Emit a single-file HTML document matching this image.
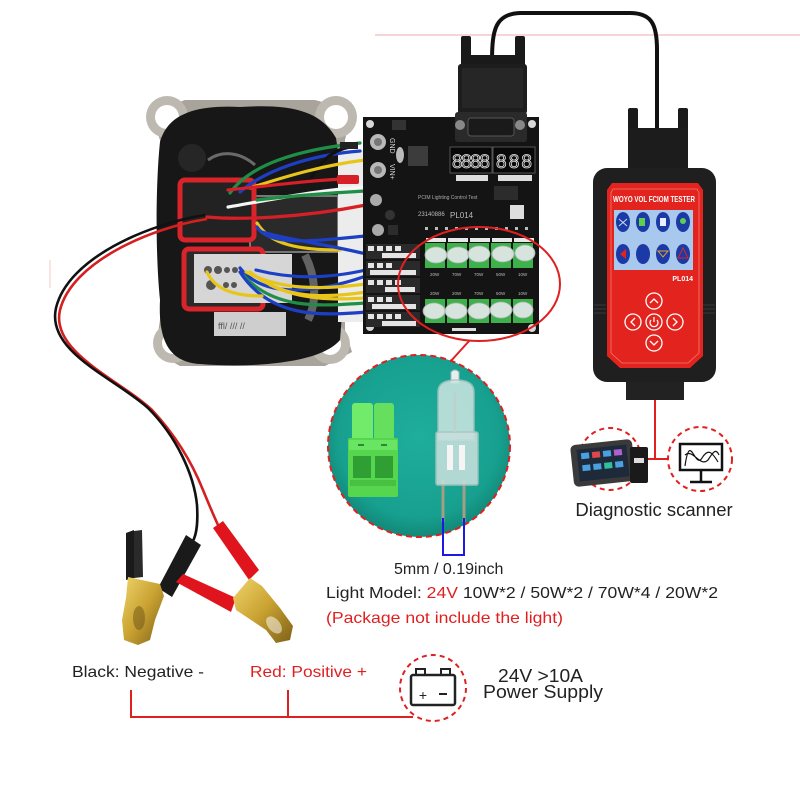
<!DOCTYPE html>
<html><head><meta charset="utf-8">
<style>
html,body{margin:0;padding:0;background:#fff;}
svg{display:block;}
text{font-family:"Liberation Sans",Arial,sans-serif;}
</style></head><body>
<svg width="800" height="800" viewBox="0 0 800 800" xmlns="http://www.w3.org/2000/svg">
<defs>
<radialGradient id="teal" cx="50%" cy="45%" r="55%">
<stop offset="0" stop-color="#1fae9c"/><stop offset="0.8" stop-color="#17a08f"/><stop offset="1" stop-color="#128878"/>
</radialGradient>
<linearGradient id="gold" x1="0" y1="0" x2="1" y2="1">
<stop offset="0" stop-color="#f0d46a"/><stop offset="0.5" stop-color="#c9a232"/><stop offset="1" stop-color="#7e6018"/>
</linearGradient>
<clipPath id="cc"><circle cx="419" cy="446" r="90"/></clipPath>
</defs>
<rect width="800" height="800" fill="#fff"/>
<line x1="375" y1="35" x2="800" y2="35" stroke="#f3bcbc" stroke-width="1.2"/>
<line x1="50" y1="260" x2="50" y2="288" stroke="#f6c8c8" stroke-width="1"/>

<!-- DB9 cable -->
<path d="M492,62 C492,30 495,14 520,13 L630,13 C652,13 657,25 657,50 L657,130" stroke="#111" stroke-width="4" fill="none"/>

<!-- ECU flange -->
<path d="M150,112 L185,100 L315,100 L352,110 L345,140 L345,330 L352,352 L325,366 L180,366 L155,352 L160,320 L160,140 Z" fill="#a8a39b"/>
<circle cx="167" cy="117" r="21" fill="#bdb8b0"/><circle cx="167" cy="117" r="12" fill="#fff"/>
<circle cx="336" cy="117" r="21" fill="#bdb8b0"/><circle cx="336" cy="117" r="12" fill="#fff"/>
<circle cx="173" cy="343" r="20" fill="#bdb8b0"/><circle cx="173" cy="343" r="11" fill="#fff"/>
<circle cx="330" cy="344" r="20" fill="#bdb8b0"/><circle cx="330" cy="344" r="11" fill="#fff"/>
<!-- potting -->
<path d="M160,142 C168,112 200,105 240,107 C290,104 320,110 336,138 C346,200 344,300 340,340 C320,364 250,368 200,364 C170,362 158,342 160,300 C155,250 156,180 160,142 Z" fill="#171717"/>
<ellipse cx="192" cy="158" rx="14" ry="14" fill="#262626"/>
<path d="M208,160 C222,150 240,152 255,165" stroke="#6a6a6a" stroke-width="3" fill="none"/>
<!-- upper connector interior -->
<rect x="250" y="196" width="88" height="56" fill="#2a2a2a" stroke="#777" stroke-width="2"/>
<path d="M305,255 C315,275 318,300 308,320" stroke="#777" stroke-width="8" fill="none" opacity="0.8"/>
<rect x="214" y="312" width="72" height="24" fill="#e2e2e2" opacity="0.9"/>
<text x="218" y="329" font-size="9" fill="#555">ffl/ /// //</text>
<!-- red connectors -->
<rect x="180" y="180" width="74" height="60" rx="5" fill="#222" stroke="#d8242a" stroke-width="5"/>
<rect x="184" y="249" width="79" height="60" rx="5" fill="#2a2a2a" stroke="#d8242a" stroke-width="5"/>
<rect x="194" y="254" width="98" height="49" fill="#d6d6d6"/>
<g fill="#555"><circle cx="208" cy="270" r="4"/><circle cx="218" cy="270" r="4"/><circle cx="227" cy="270" r="3"/><circle cx="235" cy="270" r="3"/><circle cx="211" cy="285" r="5"/><circle cx="226" cy="285" r="3"/><circle cx="234" cy="285" r="3"/></g>
<!-- white strip -->
<rect x="338" y="150" width="28" height="172" fill="#ececec"/>

<!-- wires -->
<g fill="none" stroke-width="3.2" stroke-linecap="round">
<path d="M230,193 C250,165 295,150 360,143" stroke="#1f8f46"/>
<path d="M240,192 C265,170 310,155 360,151" stroke="#1c3fc4"/>
<path d="M310,180 C320,162 332,150 350,147" stroke="#111"/>
<path d="M250,188 C290,175 325,165 365,160" stroke="#e8c51a"/>
<path d="M228,190 C275,185 315,180 345,179" stroke="#d61f26"/>
<path d="M228,207 C280,198 320,190 365,187" stroke="#f6f6f6"/>
<path d="M257,200 C290,196 330,193 365,191" stroke="#1f8f46"/>
<path d="M207,217 C240,220 300,218 366,205" stroke="#d61f26"/>
<path d="M257,223 C270,245 300,250 340,250" stroke="#e8c51a"/>
<path d="M257,227 C270,248 320,240 366,236" stroke="#1c3fc4"/>
<path d="M262,232 C290,240 330,245 366,254" stroke="#1c3fc4"/>
<path d="M240,268 C265,300 320,292 366,276" stroke="#1c3fc4"/>
<path d="M246,272 C280,290 320,290 366,284" stroke="#e8c51a"/>
<path d="M250,272 C285,300 325,298 366,292" stroke="#e8c51a"/>
<path d="M244,276 C275,310 320,306 366,303" stroke="#1f8f46"/>
<path d="M240,272 C270,318 320,316 366,312" stroke="#1c3fc4"/>
<path d="M256,270 C295,280 330,278 366,270" stroke="#1c3fc4"/>
<path d="M207,272 C215,290 235,296 262,296" stroke="#e8c51a"/>
<path d="M270,285 C300,300 335,300 366,298" stroke="#e8c51a"/>
</g>
<rect x="337" y="175" width="22" height="9" rx="2" fill="#d61f26"/>
<rect x="340" y="142" width="18" height="7" fill="#222"/>

<!-- DB9 plug -->
<rect x="461" y="36" width="10" height="32" rx="2" fill="#1a1a1a"/>
<rect x="515" y="36" width="10" height="32" rx="2" fill="#1a1a1a"/>
<rect x="470" y="55" width="46" height="12" fill="#1a1a1a"/>
<rect x="458" y="64" width="69" height="50" rx="3" fill="#1d1d1d"/>
<rect x="462" y="68" width="61" height="40" fill="#262626"/>

<!-- PCB -->
<rect x="363" y="117" width="176" height="217" fill="#141414"/>
<rect x="455" y="112" width="72" height="30" rx="3" fill="#2a2a2a"/>
<rect x="468" y="118" width="46" height="18" rx="3" fill="#1a1a1a" stroke="#555"/>
<circle cx="460" cy="125" r="5" fill="#888"/><circle cx="520" cy="125" r="5" fill="#888"/>
<g fill="#d8d8d8"><circle cx="370" cy="124" r="4"/><circle cx="532" cy="124" r="4"/><circle cx="370" cy="327" r="4"/><circle cx="532" cy="328" r="4"/></g>
<circle cx="378" cy="142" r="8" fill="#b9b9b9"/><circle cx="378" cy="142" r="4" fill="#777"/>
<circle cx="378" cy="170" r="8" fill="#b9b9b9"/><circle cx="378" cy="170" r="4" fill="#777"/>
<text x="390" y="138" font-size="7" fill="#ddd" transform="rotate(90 390 138)">GND</text>
<text x="390" y="164" font-size="7" fill="#ddd" transform="rotate(90 390 164)">VIN+</text>
<rect x="392" y="120" width="14" height="10" fill="#333"/>
<circle cx="376" cy="200" r="6" fill="#aaa"/><circle cx="378" cy="230" r="6" fill="#aaa"/>
<circle cx="390" cy="215" r="5" fill="#333"/><rect x="388" y="225" width="10" height="10" fill="#2c2c2c"/>
<rect x="408" y="146" width="20" height="20" fill="#3c3c3c"/>
<ellipse cx="400" cy="155" rx="4" ry="8" fill="#bbb"/>
<rect x="450" y="147" width="42" height="26" fill="#080808" stroke="#555"/>
<rect x="493" y="147" width="42" height="26" fill="#080808" stroke="#555"/>
<text x="452" y="168" font-size="19" font-family="Liberation Mono" fill="#111" stroke="#e6e6e6" stroke-width="0.8" textLength="38">8888</text>
<text x="496" y="168" font-size="19" font-family="Liberation Mono" fill="#111" stroke="#e6e6e6" stroke-width="0.8" textLength="36">888</text>
<rect x="456" y="175" width="32" height="6" fill="#ddd"/><rect x="498" y="175" width="34" height="6" fill="#ddd"/>
<rect x="494" y="186" width="24" height="14" fill="#2c2c2c"/>
<text x="418" y="199" font-size="5" fill="#aaa">PCIM Lighting Control Test</text>
<text x="418" y="216" font-size="6" fill="#bbb">23140886</text>
<text x="450" y="218" font-size="8" fill="#bbb">PL014</text>
<rect x="510" y="205" width="14" height="14" fill="#ddd"/>
<g fill="#bbb"><rect x="425" y="227" width="3" height="3"/><rect x="435" y="227" width="3" height="3"/><rect x="445" y="227" width="3" height="3"/><rect x="455" y="227" width="3" height="3"/><rect x="465" y="227" width="3" height="3"/><rect x="475" y="227" width="3" height="3"/><rect x="485" y="227" width="3" height="3"/><rect x="495" y="227" width="3" height="3"/><rect x="505" y="227" width="3" height="3"/><rect x="515" y="227" width="3" height="3"/><rect x="525" y="227" width="3" height="3"/></g>
<!-- left label rows -->
<g fill="#e4e4e4">
<rect x="366" y="244" width="54" height="15" fill="#2a2a2a"/><rect x="366" y="261" width="54" height="15" fill="#2a2a2a"/><rect x="366" y="278" width="54" height="15" fill="#2a2a2a"/><rect x="366" y="295" width="54" height="15" fill="#2a2a2a"/><rect x="366" y="312" width="54" height="15" fill="#2a2a2a"/>
<rect x="368" y="246" width="6" height="5"/><rect x="377" y="246" width="6" height="5"/><rect x="386" y="246" width="6" height="5"/><rect x="395" y="246" width="6" height="5"/><rect x="382" y="253" width="34" height="5"/>
<rect x="368" y="263" width="6" height="5"/><rect x="377" y="263" width="6" height="5"/><rect x="386" y="263" width="6" height="5"/><rect x="370" y="270" width="46" height="5"/>
<rect x="368" y="280" width="6" height="5"/><rect x="377" y="280" width="6" height="5"/><rect x="386" y="280" width="6" height="5"/><rect x="395" y="280" width="6" height="5"/><rect x="385" y="287" width="30" height="5"/>
<rect x="368" y="297" width="6" height="5"/><rect x="377" y="297" width="6" height="5"/><rect x="386" y="297" width="6" height="5"/><rect x="372" y="304" width="44" height="5"/>
<rect x="368" y="314" width="6" height="5"/><rect x="377" y="314" width="6" height="5"/><rect x="386" y="314" width="6" height="5"/><rect x="395" y="314" width="6" height="5"/><rect x="382" y="321" width="34" height="5"/>
</g>
<!-- terminal blocks -->
<g fill="#e8e8e8"><rect x="426" y="238" width="20" height="4"/><rect x="448" y="238" width="20" height="4"/><rect x="470" y="238" width="20" height="4"/><rect x="492" y="238" width="20" height="4"/><rect x="514" y="238" width="20" height="4"/></g>
<g fill="#3db24a">
<rect x="425" y="243" width="20" height="25"/><rect x="447" y="243" width="20" height="25"/><rect x="469" y="243" width="20" height="25"/><rect x="491" y="243" width="20" height="25"/><rect x="513" y="243" width="20" height="25"/>
<rect x="425" y="299" width="20" height="24"/><rect x="447" y="299" width="20" height="24"/><rect x="469" y="299" width="20" height="24"/><rect x="491" y="299" width="20" height="24"/><rect x="513" y="299" width="20" height="24"/>
</g>
<g fill="#dfe7e5" stroke="#aab5b2" stroke-width="0.8" opacity="0.95">
<ellipse cx="436" cy="255" rx="11" ry="8"/><ellipse cx="458" cy="255" rx="11" ry="8"/><ellipse cx="479" cy="254" rx="11" ry="8"/><ellipse cx="503" cy="254" rx="11" ry="8"/><ellipse cx="525" cy="253" rx="10" ry="8"/>
<ellipse cx="434" cy="311" rx="11" ry="8"/><ellipse cx="456" cy="311" rx="11" ry="8"/><ellipse cx="479" cy="311" rx="11" ry="8"/><ellipse cx="501" cy="310" rx="11" ry="8"/><ellipse cx="523" cy="310" rx="10" ry="8"/>
</g>
<g font-size="4.5" fill="#bbb"><text x="430" y="276">20W</text><text x="452" y="276">70W</text><text x="474" y="276">70W</text><text x="496" y="276">50W</text><text x="518" y="276">10W</text>
<text x="430" y="295">20W</text><text x="452" y="295">20W</text><text x="474" y="295">70W</text><text x="496" y="295">50W</text><text x="518" y="295">10W</text></g>
<rect x="452" y="328" width="24" height="3" fill="#ddd"/>

<!-- red ellipse & pointer -->
<ellipse cx="479" cy="284" rx="81" ry="57" fill="none" stroke="#e02020" stroke-width="2"/>
<line x1="470" y1="340" x2="450" y2="362" stroke="#e02020" stroke-width="2"/>

<!-- teal circle -->
<circle cx="419" cy="446" r="91" fill="url(#teal)"/>
<g clip-path="url(#cc)">
<rect x="352" y="403" width="21" height="42" rx="3" fill="#72ea6a"/>
<rect x="374" y="403" width="20" height="42" rx="3" fill="#66df5e"/>
<rect x="348" y="438" width="50" height="59" rx="2" fill="#56d64f"/>
<rect x="349" y="440" width="48" height="10" fill="#6ae463"/>
<rect x="353" y="456" width="18" height="22" fill="#2f9e33"/>
<rect x="375" y="456" width="18" height="22" fill="#2f9e33"/>
<rect x="350" y="480" width="46" height="6" fill="#48c142"/>
<rect x="358" y="444" width="6" height="2" fill="#2a8a2c"/><rect x="381" y="444" width="6" height="2" fill="#2a8a2c"/>
<line x1="443" y1="480" x2="443" y2="522" stroke="#a59d85" stroke-width="3"/>
<line x1="464" y1="480" x2="464" y2="522" stroke="#a59d85" stroke-width="3"/>
<path d="M451,383 L451,372 Q455,368 459,372 L459,383 Z" fill="#e4f0ee" stroke="#9fbab6"/>
<path d="M438,440 L438,392 Q438,380 456,380 Q474,380 474,392 L474,440 Z" fill="#cfe6e2" stroke="#a9c4c0" stroke-width="1.5" opacity="0.85"/>
<rect x="436" y="432" width="42" height="53" rx="2" fill="#c6e0dc" stroke="#a9c4c0" stroke-width="1.5" opacity="0.88"/>
<rect x="447" y="445" width="6" height="25" fill="#f5f5f5"/><rect x="459" y="445" width="6" height="25" fill="#f5f5f5"/>
<line x1="455" y1="392" x2="455" y2="432" stroke="#bcd2ce" stroke-width="3"/>
</g>
<circle cx="419" cy="446" r="91" fill="none" stroke="#e02020" stroke-width="2" stroke-dasharray="6 4"/>
<polyline points="443,518 443,555 464,555 464,518" fill="none" stroke="#1a1ae0" stroke-width="2"/>

<!-- tester -->
<rect x="628" y="108" width="10" height="30" rx="2" fill="#1a1a1a"/>
<rect x="678" y="108" width="10" height="30" rx="2" fill="#1a1a1a"/>
<rect x="628" y="128" width="60" height="44" rx="3" fill="#1c1c1c"/>
<rect x="626" y="378" width="58" height="22" fill="#222"/>
<rect x="593" y="168" width="123" height="214" rx="14" fill="#1f1f1f"/>
<g stroke="#3a3a3a" stroke-width="1"><line x1="594" y1="305" x2="606" y2="305"/><line x1="594" y1="309" x2="606" y2="309"/><line x1="594" y1="313" x2="606" y2="313"/><line x1="703" y1="305" x2="715" y2="305"/><line x1="703" y1="309" x2="715" y2="309"/><line x1="703" y1="313" x2="715" y2="313"/></g>
<path d="M612,183 L698,183 L703,190 L703,356 L690,368 L620,368 L607,356 L607,190 Z" fill="#e3231e"/>
<path d="M613,189 L697,189 L699,193 L699,353 L688,363 L622,363 L611,353 L611,193 Z" fill="none" stroke="#f07a70" stroke-width="0.8"/>
<text x="654" y="202" font-size="8.5" font-weight="bold" fill="#fff" text-anchor="middle" textLength="82" lengthAdjust="spacingAndGlyphs">WOYO VOL FCIOM TESTER</text>
<rect x="614" y="210" width="79" height="60" fill="#a9c8ee"/>
<g fill="#1b3aa6"><ellipse cx="623" cy="222" rx="7" ry="10"/><ellipse cx="643" cy="222" rx="7" ry="10"/><ellipse cx="663" cy="222" rx="7" ry="10"/><ellipse cx="683" cy="222" rx="7" ry="10"/>
<ellipse cx="623" cy="254" rx="7" ry="10"/><ellipse cx="643" cy="254" rx="7" ry="10"/><ellipse cx="663" cy="254" rx="7" ry="10"/><ellipse cx="683" cy="254" rx="7" ry="10"/></g>
<rect x="639" y="218" width="6" height="8" fill="#5ccf4e"/><rect x="660" y="218" width="6" height="8" fill="#e8f0ff"/><circle cx="683" cy="221" r="3" fill="#5ccf4e"/>
<path d="M620,254 L626,249 L626,259 Z" fill="#e3231e"/><path d="M658,251 L668,251 L663,257 Z" fill="none" stroke="#e0a030"/><path d="M683,248 L688,258 L678,258 Z" fill="none" stroke="#e3231e"/>
<path d="M619,219 L627,226 M627,219 L619,226" stroke="#cde" stroke-width="1"/>
<text x="693" y="281" font-size="7" font-weight="bold" fill="#fff" text-anchor="end">PL014</text>
<g fill="#e3231e" stroke="#fff" stroke-width="1.3"><circle cx="654" cy="301" r="8"/><circle cx="633" cy="322" r="8"/><circle cx="654" cy="322" r="8"/><circle cx="675" cy="322" r="8"/><circle cx="654" cy="343" r="8"/></g>
<g fill="none" stroke="#fff" stroke-width="1.3"><path d="M650,303 L654,299 L658,303"/><path d="M635,318 L631,322 L635,326"/><path d="M673,318 L677,322 L673,326"/><path d="M650,341 L654,345 L658,341"/><path d="M651,320 A4,4 0 1,0 657,320"/><line x1="654" y1="317" x2="654" y2="322"/></g>

<!-- diagnostic -->
<line x1="655" y1="400" x2="655" y2="459" stroke="#e02020" stroke-width="2"/>
<line x1="640" y1="459" x2="668" y2="459" stroke="#e02020" stroke-width="2"/>
<circle cx="610" cy="459" r="31" fill="none" stroke="#e02020" stroke-width="2" stroke-dasharray="5 4"/>
<circle cx="700" cy="459" r="32" fill="none" stroke="#e02020" stroke-width="2" stroke-dasharray="5 4"/>
<g transform="rotate(-6 603 463)"><rect x="572" y="442" width="62" height="42" rx="5" fill="#3a3a3a"/><rect x="578" y="447" width="50" height="32" fill="#1e2a3a"/>
<g fill="#4aa0e0"><rect x="582" y="451" width="8" height="6"/><rect x="593" y="451" width="8" height="6" fill="#e04848"/><rect x="604" y="451" width="8" height="6"/><rect x="615" y="451" width="8" height="6" fill="#b060d0"/><rect x="582" y="463" width="8" height="6"/><rect x="593" y="463" width="8" height="6"/><rect x="604" y="463" width="8" height="6" fill="#30c0a0"/><rect x="615" y="463" width="8" height="6"/></g></g>
<rect x="630" y="447" width="18" height="36" rx="2" fill="#1a1a1a"/><rect x="634" y="458" width="10" height="5" fill="#ddd"/>
<rect x="680" y="444" width="42" height="26" fill="#fff" stroke="#111" stroke-width="2.5"/>
<path d="M685,466 C690,430 695,470 702,458 C708,448 712,452 718,462 M685,455 C693,448 700,468 708,460 C713,452 716,448 719,455" fill="none" stroke="#111" stroke-width="1.2"/>
<line x1="701" y1="470" x2="701" y2="481" stroke="#111" stroke-width="2.5"/>
<line x1="690" y1="482" x2="712" y2="482" stroke="#111" stroke-width="2.5"/>
<text x="654" y="516" font-size="18.5" fill="#222" text-anchor="middle">Diagnostic scanner</text>

<!-- texts -->
<text x="394" y="574" font-size="16" fill="#222">5mm / 0.19inch</text>
<text x="326" y="598" font-size="16" fill="#222" textLength="392" lengthAdjust="spacingAndGlyphs">Light Model: <tspan fill="#e02020">24V</tspan> 10W*2 / 50W*2 / 70W*4 / 20W*2</text>
<text x="326" y="623" font-size="16" fill="#e02020" textLength="237" lengthAdjust="spacingAndGlyphs">(Package not include the light)</text>
<text x="72" y="677" font-size="16" fill="#222" textLength="132" lengthAdjust="spacingAndGlyphs">Black: Negative -</text>
<text x="250" y="677" font-size="16" fill="#e02020" textLength="117" lengthAdjust="spacingAndGlyphs">Red: Positive +</text>
<polyline points="131,690 131,717 413,717" fill="none" stroke="#e02020" stroke-width="2"/>
<line x1="288" y1="690" x2="288" y2="717" stroke="#e02020" stroke-width="2"/>
<circle cx="433" cy="688" r="33" fill="none" stroke="#e02020" stroke-width="2" stroke-dasharray="5 4"/>
<rect x="416" y="669" width="9" height="6" fill="none" stroke="#222" stroke-width="2"/>
<rect x="441" y="669" width="9" height="6" fill="none" stroke="#222" stroke-width="2"/>
<rect x="411" y="675" width="44" height="30" rx="2" fill="#fff" stroke="#222" stroke-width="2.5"/>
<text x="423" y="700" font-size="14" fill="#222" text-anchor="middle">+</text>
<line x1="439" y1="694" x2="447" y2="694" stroke="#222" stroke-width="2"/>
<text x="498" y="682" font-size="18" fill="#222" textLength="85" lengthAdjust="spacingAndGlyphs">24V &gt;10A</text>
<text x="483" y="698" font-size="18.5" fill="#222" textLength="120" lengthAdjust="spacingAndGlyphs">Power Supply</text>

<!-- cable & clips -->
<path d="M207,219 C150,228 72,262 60,310 C50,352 120,380 152,410 C180,440 195,470 203,490 C208,502 212,512 218,525" fill="none" stroke="#d42020" stroke-width="2.6"/>
<path d="M205,215 C148,224 68,258 56,308 C46,352 115,378 148,408 C176,436 194,474 197,505 C198,522 197,533 193,541" fill="none" stroke="#111" stroke-width="2.6"/>
<polygon points="186,535 201,545 172,597 158,588" fill="#1a1a1a"/>
<polygon points="126,533 134,530 134,578 126,580" fill="#1a1a1a"/>
<polygon points="134,531 142,530 143,577 134,578" fill="#2a2a2a"/>
<polygon points="128,577 160,584 164,596 155,620 150,640 138,645 124,640 122,620 126,598" fill="url(#gold)"/>
<ellipse cx="139" cy="618" rx="6" ry="12" fill="#6e5416" opacity="0.5"/>
<polygon points="213,528 223,521 259,570 249,580" fill="#e0141c"/>
<polygon points="176,582 183,574 236,598 231,612" fill="#e0141c"/>
<polygon points="233,598 250,578 262,586 280,608 293,626 290,640 276,643 266,630 236,610" fill="url(#gold)"/>
<ellipse cx="274" cy="625" rx="6" ry="10" fill="#fff" opacity="0.5" transform="rotate(-40 274 625)"/>
</svg>
</body></html>
